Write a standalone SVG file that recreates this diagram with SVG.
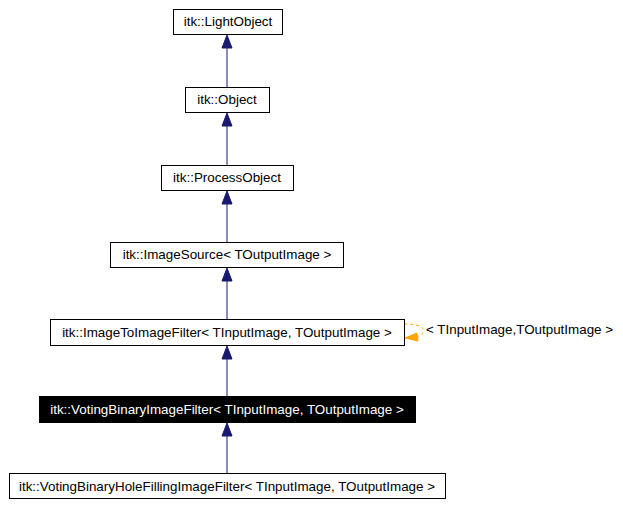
<svg xmlns="http://www.w3.org/2000/svg" width="623" height="506" viewBox="0 0 623 506">
<style>
rect{fill:#fff;stroke:#000;stroke-width:1}
text{font-family:"Liberation Sans",Arial,sans-serif;font-size:13.4px;text-anchor:middle}
.e line{stroke:#191970;stroke-width:1}
.e polygon{fill:#191970;stroke:#191970}
.e polygon.o{fill:#ffa500;stroke:#ffa500}
</style>
<rect width="623" height="506" style="fill:#fff;stroke:none"/>
<g class="e" id="edges">
<line x1="227" y1="47" x2="227" y2="87"/><polygon points="227,35 222,48 232,48"/>
<line x1="227" y1="125" x2="227" y2="165"/><polygon points="227,113 222,126 232,126"/>
<line x1="227" y1="203" x2="227" y2="242"/><polygon points="227,191 222,204 232,204"/>
<line x1="227" y1="280" x2="227" y2="319"/><polygon points="227,268 222,281 232,281"/>
<line x1="227" y1="358" x2="227" y2="396"/><polygon points="227,346 222,359 232,359"/>
<line x1="227" y1="435" x2="227" y2="473"/><polygon points="227,423 222,436 232,436"/>
<path d="M404,324 C416,324 422,326 424,330 C423,334 420,336 416,337" fill="none" stroke="#ffa500" stroke-dasharray="3,3"/>
<polygon class="o" points="405,338 417,333 418,341"/>
</g>
<g id="n1"><rect x="173.5" y="9.5" width="109" height="25"/><text x="228" y="26">itk::LightObject</text></g>
<g id="n2"><rect x="185.5" y="87.5" width="84" height="25"/><text x="227" y="104">itk::Object</text></g>
<g id="n3"><rect x="161.5" y="165.5" width="132" height="25"/><text x="227" y="182">itk::ProcessObject</text></g>
<g id="n4"><rect x="110.5" y="242.5" width="233" height="25"/><text x="227" y="259">itk::ImageSource&lt; TOutputImage &gt;</text></g>
<g id="n5"><rect x="50.5" y="319.5" width="354" height="26"/><text x="227" y="337">itk::ImageToImageFilter&lt; TInputImage, TOutputImage &gt;</text></g>
<g id="n6"><rect x="39.5" y="396.5" width="376" height="26" style="fill:#000"/><text x="227" y="414" style="fill:#fff">itk::VotingBinaryImageFilter&lt; TInputImage, TOutputImage &gt;</text></g>
<g id="n7"><rect x="9.5" y="473.5" width="436" height="25"/><text x="227" y="491">itk::VotingBinaryHoleFillingImageFilter&lt; TInputImage, TOutputImage &gt;</text></g>
<text x="426" y="334" style="text-anchor:start">&lt; TInputImage,TOutputImage &gt;</text>
</svg>
